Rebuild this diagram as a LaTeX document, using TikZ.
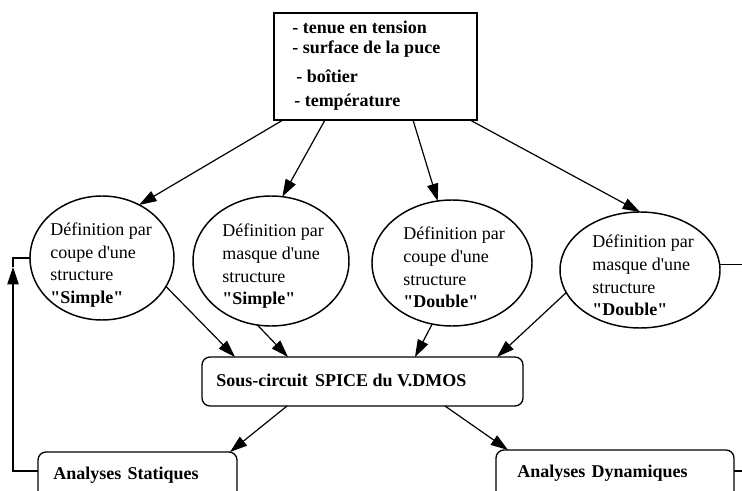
\documentclass[tikz,border=0pt]{standalone}
\usepackage{fontspec}
\setmainfont{Liberation Serif}
\usetikzlibrary{shapes.geometric,arrows.meta,calc}
\begin{document}
\begin{tikzpicture}[x=0.75pt,y=-0.75pt,
 ln/.style={line width=0.9pt},
 arr/.style={ln,-{Triangle[length=13pt,width=8.5pt]}},
 ell/.style={ellipse,draw,line width=1.1pt,inner sep=0pt,outer sep=0pt},
 boxn/.style={rectangle,draw,line width=1pt,inner sep=0pt,outer sep=0pt},
 rbox/.style={boxn,rounded corners=6pt},
 etext/.style={anchor=west,align=left,inner sep=0pt,font=\fontsize{13.5}{17}\selectfont},
 btext/.style={anchor=base west,inner sep=0pt,font=\fontsize{13.5}{16.5}\selectfont\bfseries}]
\useasboundingbox (0,0) rectangle (742,491);
\clip (0,0) rectangle (742,491);
\fill[white] (0,0) rectangle (742,491);

% top box
\node[boxn,minimum width=152.25pt,minimum height=80.25pt] (top) at (375.5,66.5) {};
\node[btext] (t1) at (292,34) {- tenue en tension};
\node[btext] (t2) at (292,54) {- surface de la puce};
\node[btext] (t3) at (296,83) {- boîtier};
\node[btext] (t4) at (294,107) {- température};

% ellipses
\node[ell,minimum width=108pt,minimum height=93pt] (e1) at (102,258) {};
\node[ell,minimum width=117pt,minimum height=97.5pt] (e2) at (271,261) {};
\node[ell,minimum width=120pt,minimum height=94.5pt] (e3) at (452,263) {};
\node[ell,minimum width=120pt,minimum height=87pt] (e4) at (640,270) {};

\node[etext] (e1t) at (50,265) {Définition par\\coupe d\textquotesingle une\\structure\\\textbf{\textquotedbl Simple\textquotedbl}};
\node[etext] (e2t) at (222,266.5) {Définition par\\masque d\textquotesingle une\\structure\\\textbf{\textquotedbl Simple\textquotedbl}};
\node[etext] (e3t) at (403,267.5) {Définition par\\coupe d\textquotesingle une\\structure\\\textbf{\textquotedbl Double\textquotedbl}};
\node[etext] (e4t) at (592,275.5) {Définition par\\masque d\textquotesingle une\\structure\\\textbf{\textquotedbl Double\textquotedbl}};

% SPICE box
\node[rbox,minimum width=240.75pt,minimum height=36.75pt] (spice) at (362.5,381.5) {};
\node[btext] (spicet) at (216,387) {Sous-circuit\hspace{0.4em}SPICE du V.DMOS};

% analyses boxes (clipped at bottom)
\node[rbox,minimum width=149.25pt,minimum height=51pt] (stat) at (137.5,486) {};
\node[btext] (statt) at (53,479) {Analyses\hspace{0.35em}Statiques};
\node[rbox,minimum width=178.5pt,minimum height=52.5pt] (dyn) at (615,485) {};
\node[btext] (dynt) at (517,477) {Analyses\hspace{0.35em}Dynamiques};

% arrows from top box
\draw[arr] ($(top.south west)+(9,0)$) -- (e1.55);
\draw[arr] ($(top.south west)+(51,0)$) -- (e2.80);
\draw[arr] ($(top.south west)+(139,0)$) -- (e3.103);
\draw[arr] ($(top.south west)+(196,0)$) -- (e4.north);

% arrows into SPICE
\draw[arr] (e1.-24) -- ($(spice.north west)+(33,0)$);
\draw[arr] (e2.258) -- ($(spice.north west)+(86,0)$);
\draw[arr] (e3.252) -- ($(spice.north west)+(213,0)$);
\draw[arr] (e4.197) -- ($(spice.north west)+(295,0)$);

% arrows to analyses
\draw[arr] ($(spice.south west)+(85,0)$) -- ($(stat.north east)+(-7,0)$);
\draw[arr] ($(spice.south west)+(243,0)$) -- ($(dyn.north west)+(12,0)$);

% feedback loop
\coordinate (fbb) at (13,471);
\coordinate (fbt) at (13,258);
\draw[arr] (stat.west |- fbb) -- (fbb) -- ($(fbt)+(0,9)$);
\draw[ln] (e1.west) -- (fbt) -- ($(fbt)+(0,9)$);

% right free ends
\coordinate (redge) at (745,471);
\draw[ln] (e4.4) -- (e4.4 -| redge);
\draw[ln] (dyn.east |- redge) -- (redge);
\end{tikzpicture}
\end{document}
